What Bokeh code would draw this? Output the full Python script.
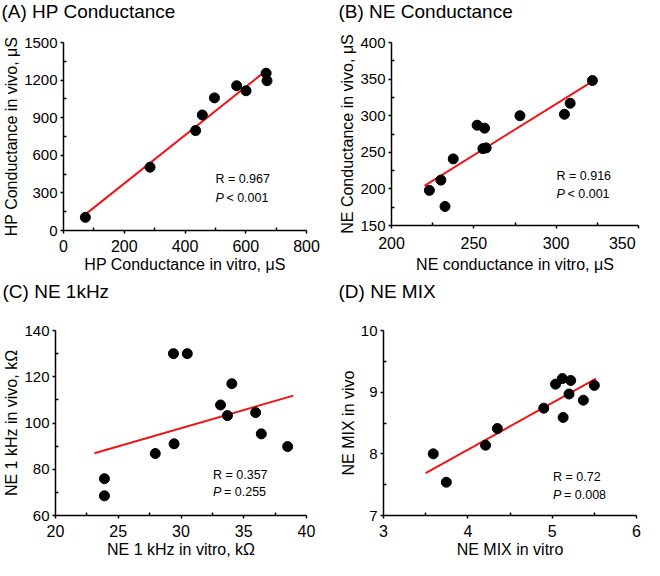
import numpy as np
from bokeh.plotting import figure
from bokeh.layouts import row, column
from bokeh.models import Range1d, FixedTicker, Label
from bokeh.embed import file_html
from bokeh.resources import INLINE

FONT = "Liberation Sans"
NBSP = "\u00a0"

# ---------------- data ----------------
# (A) HP Conductance
a_title = "(A) HP Conductance"
a_x = [72, 285, 435, 457, 497, 570, 601, 667, 670]
a_y = [105, 505, 797, 922, 1058, 1155, 1115, 1255, 1195]
a_fit_range = [69, 665]
a_xticks = [0, 200, 400, 600, 800]
a_yticks = [0, 300, 600, 900, 1200, 1500]
a_stats = ["R = 0.967", "P", "< 0.001"]

# (B) NE Conductance
b_title = "(B) NE Conductance"
b_x = [223, 230, 232.5, 237.5, 252, 256.5, 255.5, 257.5, 278, 305, 308.5, 322]
b_y = [198, 212, 176, 241, 287, 283, 255, 256, 300, 302, 317, 348]
b_fit_range = [220, 324.5]
b_xticks = [200, 250, 300, 350]
b_yticks = [150, 200, 250, 300, 350, 400]
b_stats = ["R = 0.916", "P", "< 0.001"]

# (C) NE 1kHz
c_title = "(C) NE 1kHz"
c_x = [23.9, 23.9, 27.95, 29.45, 29.4, 30.5, 33.15, 33.7, 34.05, 35.95, 36.4, 38.5]
c_y = [68.5, 75.9, 86.8, 91.0, 130.0, 130.0, 107.8, 103.2, 117.0, 104.5, 95.3, 89.8]
c_fit_range = [23.1, 38.95]
c_xticks = [20, 25, 30, 35, 40]
c_yticks = [60, 80, 100, 120, 140]
c_stats = ["R = 0.357", "P", "= 0.255"]

# (D) NE MIX
d_title = "(D) NE MIX"
d_x = [3.59, 3.745, 4.21, 4.35, 4.90, 5.04, 5.12, 5.22, 5.20, 5.13, 5.37, 5.50]
d_y = [8.00, 7.54, 8.14, 8.41, 8.74, 9.13, 9.22, 9.19, 8.97, 8.59, 8.87, 9.11]
d_fit_range = [3.5, 5.52]
d_xticks = [3, 4, 5, 6]
d_yticks = [7, 8, 9, 10]
d_stats = ["R = 0.72", "P", "= 0.008"]


def mids(t):
    return [(t[i] + t[i + 1]) / 2 for i in range(len(t) - 1)]


def title_fig(text, width, height, offset, standoff):
    t = figure(width=width, height=height,
               x_range=Range1d(0, 1), y_range=Range1d(0, 1),
               x_axis_type=None, y_axis_type=None,
               output_backend="svg", toolbar_location=None,
               min_border=0, min_border_left=0, min_border_right=0,
               min_border_top=0, min_border_bottom=0)
    t.outline_line_color = None
    t.grid.visible = False
    t.title.text = text
    t.title.text_font = FONT
    t.title.text_font_size = "19px"
    t.title.text_font_style = "normal"
    t.title.text_color = "black"
    t.title.align = "left"
    t.title.vertical_align = "top"
    t.title.offset = offset
    t.title.standoff = standoff
    return t


def panel(xs, ys, fit_range, xticks, yticks, xlabel, ylabel, stats,
          stat_xy, width, height, left, right, top, bottom, last_pad=0):
    p = figure(width=width, height=height,
               x_range=Range1d(xticks[0], xticks[-1]),
               y_range=Range1d(yticks[0], yticks[-1]),
               output_backend="svg", toolbar_location=None,
               min_border_left=left, min_border_right=right,
               min_border_top=top, min_border_bottom=bottom)
    p.outline_line_color = None
    p.grid.visible = False
    p.background_fill_color = "white"
    p.border_fill_color = "white"

    p.xaxis.ticker = FixedTicker(ticks=xticks, minor_ticks=mids(xticks))
    p.yaxis.ticker = FixedTicker(ticks=yticks, minor_ticks=mids(yticks))
    p.xaxis.axis_label = xlabel
    p.yaxis.axis_label = ylabel
    for ax in (p.xaxis[0], p.yaxis[0]):
        ax.axis_line_color = "black"
        ax.axis_line_width = 1.5
        ax.major_tick_line_color = "black"
        ax.major_tick_line_width = 1.5
        ax.minor_tick_line_color = "black"
        ax.minor_tick_line_width = 1.5
        ax.major_tick_out = 3
        ax.major_tick_in = 0
        ax.minor_tick_in = 3
        ax.minor_tick_out = 0
        ax.major_label_text_font = FONT
        ax.major_label_text_color = "black"
        ax.axis_label_text_font = FONT
        ax.axis_label_text_font_size = "16px"
        ax.axis_label_text_font_style = "normal"
        ax.axis_label_text_color = "black"
    p.xaxis.major_label_text_font_size = "16px"
    p.yaxis.major_label_text_font_size = "15px"
    p.xaxis.major_label_standoff = 6
    p.xaxis.axis_label_standoff = 1
    p.yaxis.major_label_standoff = 3
    p.yaxis.axis_label_standoff = 1
    if last_pad:
        last = xticks[-1]
        p.xaxis.major_label_overrides = {last: str(last) + NBSP * last_pad}

    coef = np.polyfit(np.array(xs, float), np.array(ys, float), 1)
    lx = np.array(fit_range, float)
    p.line(lx, np.polyval(coef, lx), line_color="#f01414", line_width=2)
    p.scatter(xs, ys, size=10, fill_color="black", line_color="black")

    sx, sy1, sy2 = stat_xy
    common = dict(text_font=FONT, text_font_size="12.5px", text_color="black",
                  text_baseline="alphabetic", text_align="left")
    p.add_layout(Label(x=sx, y=sy1, text=stats[0], **common))
    p.add_layout(Label(x=sx, y=sy2, text=stats[1], text_font_style="italic", **common))
    p.add_layout(Label(x=sx, y=sy2, x_offset=11, text=stats[2], **common))
    return p


W1, W2 = 326, 318
H1, H2 = 275, 285        # row heights
T1, T2 = 28, 38          # title strip heights

tA = title_fig(a_title, W1, T1, -62, 0)
tB = title_fig(b_title, W2, T1, -53, 0)
tC = title_fig(c_title, W1, T2, -53, 10)
tD = title_fig(d_title, W2, T2, -45, 10)

pA = panel(a_x, a_y, a_fit_range, a_xticks, a_yticks,
           "HP Conductance in vitro, μS", "HP Conductance in vivo, μS",
           a_stats, (500, 407, 259), W1, H1 - T1, 62, 20, 42 - T1, 44)
pB = panel(b_x, b_y, b_fit_range, b_xticks, b_yticks,
           "NE conductance in vitro, μS", "NE Conductance in vivo, μS",
           b_stats, (300.2, 218, 193.5), W2, H1 - T1, 65, 6, 42 - T1, 44,
           last_pad=2)
pC = panel(c_x, c_y, c_fit_range, c_xticks, c_yticks,
           "NE 1 kHz in vitro, kΩ", "NE 1 kHz in vivo, kΩ",
           c_stats, (32.55, 77.6, 70.0), W1, H2 - T2, 53, 20, 55 - T2, 44)
pD = panel(d_x, d_y, d_fit_range, d_xticks, d_yticks,
           "NE MIX in vitro", "NE MIX in vivo",
           d_stats, (5.01, 7.63, 7.333), W2, H2 - T2, 57, 8, 55 - T2, 44)

layout = column(row(column(tA, pA), column(tB, pB)),
                row(column(tC, pC), column(tD, pD)))

with open("out.html", "w") as f:
    f.write(file_html(layout, INLINE))
